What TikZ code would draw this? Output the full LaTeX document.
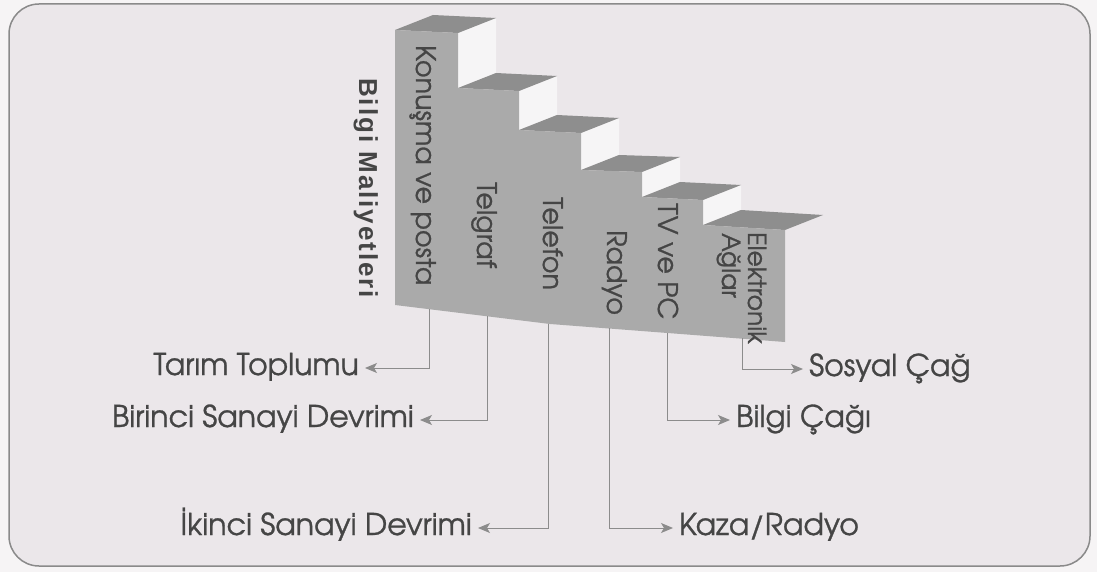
\documentclass[tikz,border=0pt]{standalone}
\usepackage{fontspec}
\usetikzlibrary{arrows.meta}
\newfontfamily\gothic[FakeBold=0.9]{texgyreadventor-regular.otf}
\newfontfamily\arialb[LetterSpace=7.5]{Liberation Sans}
\definecolor{bgc}{HTML}{EBE7EA}
\definecolor{outc}{HTML}{F6F4F5}
\definecolor{frontc}{HTML}{AAAAAA}
\definecolor{treadc}{HTML}{8E8E8E}
\definecolor{riserc}{HTML}{F6F5F6}
\definecolor{txtc}{HTML}{454545}
\definecolor{linec}{HTML}{8C8C8C}
\definecolor{borderc}{HTML}{8A8A8A}
\tikzset{
  frontface/.style={fill=frontc, draw=none},
  tread/.style={fill=treadc, draw=none},
  riser/.style={fill=riserc, draw=none},
  lab/.style={font=\gothic\fontsize{30}{30}\selectfont, text=txtc, inner xsep=6pt, inner ysep=0pt, text height=21pt, text depth=7pt},
  steplab/.style={font=\gothic\fontsize{27}{27}\selectfont, text=txtc, rotate=-90, anchor=base west, inner sep=0pt},
  conn/.style={draw=linec, line width=1pt, -{Stealth[length=12pt,width=10pt,inset=3pt]}}
}
\begin{document}
\begin{tikzpicture}[x=1pt,y=-1pt]
\useasboundingbox (0,0) rectangle (1097,572);
\fill[outc] (0,0) rectangle (1097,572);
\draw[borderc, line width=1.5pt, fill=bgc, rounded corners=30pt] (9,4) rectangle (1090,566);

% risers (light side faces)
\fill[riser] (458,33) -- (496,18) -- (496,73) -- (458,88) -- cycle;
\fill[riser] (519,91) -- (557,76) -- (557,115) -- (519,130) -- cycle;
\fill[riser] (581,133) -- (619,118) -- (619,155) -- (581,170) -- cycle;
\fill[riser] (642,172) -- (680,157) -- (680,182) -- (642,197) -- cycle;
\fill[riser] (703,200) -- (741,185) -- (741,210) -- (703,225) -- cycle;

% treads
\fill[tread] (395,30) -- (433,15) -- (496,18) -- (458,33) -- cycle;
\fill[tread] (458,88) -- (496,73) -- (557,76) -- (519,91) -- cycle;
\fill[tread] (519,130) -- (557,115) -- (619,118) -- (581,133) -- cycle;
\fill[tread] (581,170) -- (619,155) -- (680,157) -- (642,172) -- cycle;
\fill[tread] (642,197) -- (680,182) -- (741,185) -- (703,200) -- cycle;
\fill[tread] (703,225) -- (741,210) -- (823,215) -- (785,230) -- cycle;

% front face
\fill[frontface] (395,305) -- (395,30) -- (458,33) -- (458,88) -- (519,91) -- (519,130)
  -- (581,133) -- (581,170) -- (642,172) -- (642,197) -- (703,200) -- (703,225)
  -- (785,230) -- (785,342) -- (550,324) -- cycle;

% vertical axis title
\node[rotate=-90, anchor=base west, inner sep=0pt, font=\arialb\bfseries\fontsize{26}{26}\selectfont, text=txtc] (maliyet) at (359,78) {Bilgi Maliyetleri};

% step labels
\node[steplab] (konusma) at (416,45) {Konuşma ve posta};
\node[steplab] (telgraf) at (477,182) {Telgraf};
\node[steplab] (telefon) at (543,197) {Telefon};
\node[steplab] (radyo) at (607,230) {Radyo};
\node[steplab] (tvpc) at (658,203) {TV ve PC};
\node[steplab, font=\gothic\fontsize{25}{25}\selectfont] (elektronik) at (748,232) {Elektronik};
\node[steplab, font=\gothic\fontsize{25}{25}\selectfont] (aglar) at (722,233) {Ağlar};

% connector origins on the bottom edge
\coordinate (b1) at (429,309);
\coordinate (b2) at (487,316);
\coordinate (b3) at (548,324);
\coordinate (b4) at (609,328);
\coordinate (b5) at (667,333);
\coordinate (b6) at (742,338);

% era labels
\node[lab, anchor=east] (tarim) at (365,368) {Tarım Toplumu};
\node[lab, anchor=east] (birinci) at (420,420) {Birinci Sanayi Devrimi};
\node[lab, anchor=east] (ikinci) at (478,528) {İkinci Sanayi Devrimi};
\node[lab, anchor=west] (kaza) at (673,528) {Kaza/Radyo};
\node[lab, anchor=west] (bilgi) at (730,420) {Bilgi Çağı};
\node[lab, anchor=west] (sosyal) at (803,369) {Sosyal Çağ};

% connectors
\draw[conn] (b1) |- (tarim.east);
\draw[conn] (b2) |- (birinci.east);
\draw[conn] (b3) |- (ikinci.east);
\draw[conn] (b4) |- (kaza.west);
\draw[conn] (b5) |- (bilgi.west);
\draw[conn] (b6) |- (sosyal.west);
\end{tikzpicture}
\end{document}
